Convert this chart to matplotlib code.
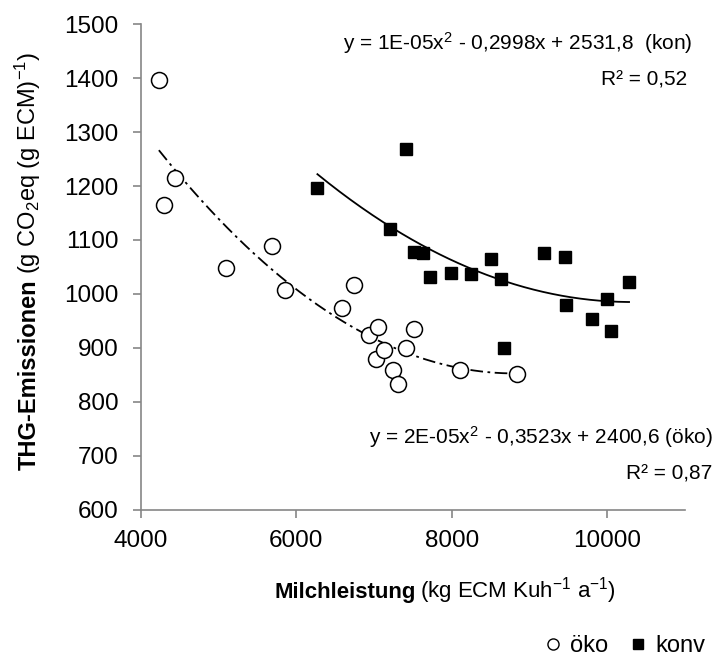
import numpy as np
import matplotlib.pyplot as plt
from matplotlib.lines import Line2D

plt.rcParams['font.family'] = ['Liberation Sans', 'DejaVu Sans']
plt.rcParams['mathtext.fontset'] = 'custom'
plt.rcParams['mathtext.rm'] = 'Liberation Sans'
plt.rcParams['mathtext.it'] = 'Liberation Sans:italic'
plt.rcParams['mathtext.bf'] = 'Liberation Sans:bold'

# Milchleistung (kg ECM) vs. THG-Emissionen
oeko_x = [4230, 4290, 4440, 5090, 5685, 5850, 6590, 6745, 6940, 7020,
          7054, 7130, 7240, 7305, 7410, 7510, 8100, 8840]
oeko_y = [1397, 1164, 1214, 1048, 1088, 1007, 974, 1017, 924, 879,
          938, 896, 859, 833, 900, 934, 859, 851]
konv_x = [6270, 7200, 7415, 7510, 7625, 7725, 7990, 8245, 8505, 8630,
          8675, 9180, 9450, 9465, 9800, 10000, 10050, 10280]
konv_y = [1196, 1120, 1268, 1078, 1076, 1031, 1039, 1036, 1065, 1027,
          900, 1075, 1068, 980, 953, 991, 931, 1022]

eq_kon = 'y = 1E-05x$^{2}$ - 0,2998x + 2531,8  (kon)'
r2_kon = 'R² = 0,52'
eq_oeko = 'y = 2E-05x$^{2}$ - 0,3523x + 2400,6 (öko)'
r2_oeko = 'R² = 0,87'

W, H = 716, 659
fig = plt.figure(figsize=(W / 100, H / 100), dpi=100)
ax = fig.add_axes([141 / W, 1 - 509.5 / H, 544 / W, 485.2 / H])

grey = '#868686'

# Trendlinien (Polynom 2. Grades)
for xs, ys, ls in [(oeko_x, oeko_y, (0, (7, 2.5, 1.5, 2.5))), (konv_x, konv_y, '-')]:
    c = np.polyfit(xs, ys, 2)
    xx = np.linspace(min(xs), max(xs), 200)
    ax.plot(xx, np.polyval(c, xx), color='black', lw=1.3, ls=ls, zorder=2)

ax.plot(oeko_x, oeko_y, 'o', ms=11.5, mfc='white', mec='black', mew=1.1, zorder=3)
ax.plot(konv_x, konv_y, 's', ms=8.8, mfc='black', mec='black', zorder=3)

ax.set_xlim(4000, 11000)
ax.set_ylim(600, 1500)
ax.set_xticks([4000, 6000, 8000, 10000])
ax.set_yticks(range(600, 1501, 100))
for s in ['top', 'right']:
    ax.spines[s].set_visible(False)
for s in ['left', 'bottom']:
    ax.spines[s].set_color(grey)
    ax.spines[s].set_linewidth(1.2)
ax.tick_params(axis='both', direction='out', length=6, width=1.2, color=grey,
               labelsize=17.5, labelcolor='black')
ax.tick_params(axis='y', pad=10)
ax.tick_params(axis='x', pad=9)

fig.text(693 / W, 1 - 43 / H, eq_kon, fontsize=15, ha='right', va='center')
fig.text(687 / W, 1 - 80 / H, r2_kon, fontsize=15, ha='right', va='center')
fig.text(713 / W, 1 - 437 / H, eq_oeko, fontsize=15, ha='right', va='center')
fig.text(712 / W, 1 - 474 / H, r2_oeko, fontsize=15, ha='right', va='center')

# Achsentitel: fetter + normaler Teil
fig.canvas.draw()
r = fig.canvas.get_renderer()
tx = fig.text(274 / W, 1 - 598 / H, 'Milchleistung', fontsize=16, fontweight='bold',
              ha='left', va='baseline')
bb = tx.get_window_extent(r)
fig.text((bb.x1 + 5) / W, 1 - 598 / H, '(kg ECM Kuh$^{-1}$ a$^{-1}$)', fontsize=16,
         ha='left', va='baseline')

ty = fig.text(36 / W, 1 - 470 / H, 'THG-Emissionen', fontsize=17, fontweight='bold',
              rotation=90, rotation_mode='anchor', ha='left', va='baseline')
bb = ty.get_window_extent(r)
fig.text(36 / W, (bb.y1 + 5) / H, '(g CO$_{2}$eq (g ECM)$^{-1}$)', fontsize=17,
         rotation=90, rotation_mode='anchor', ha='left', va='baseline')

handles = [Line2D([], [], ls='none', marker='o', ms=8, mfc='white', mec='black', mew=1),
           Line2D([], [], ls='none', marker='s', ms=7, mfc='black', mec='black')]
fig.legend(handles, ['öko', 'konv'], loc='center right', bbox_to_anchor=(705 / W, 1 - 646 / H),
           ncol=2, frameon=False, fontsize=17, handlelength=0.6, handletextpad=0.4,
           columnspacing=1.0, borderpad=0, borderaxespad=0)

fig.savefig('out.png', dpi=100)
